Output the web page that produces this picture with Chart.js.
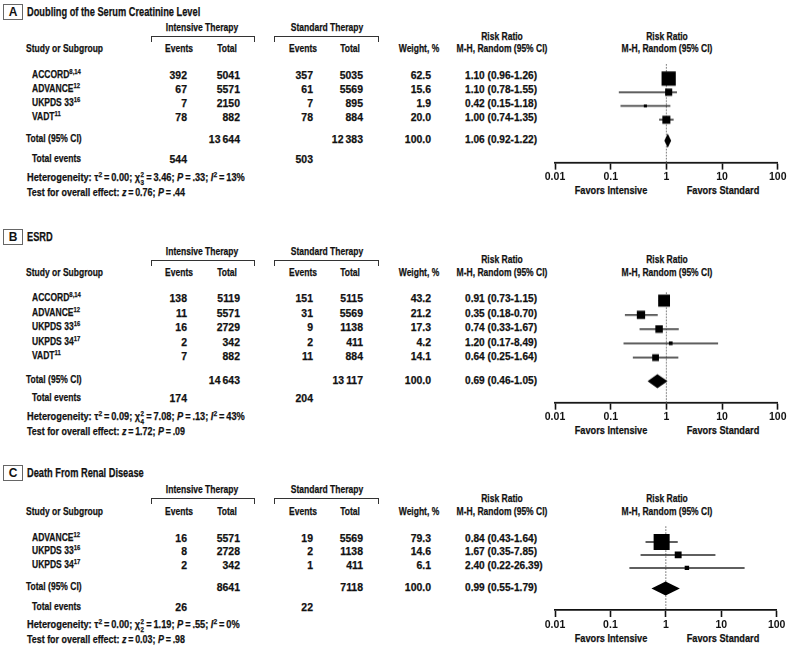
<!DOCTYPE html>
<html>
<head>
<meta charset="utf-8">
<script src="https://cdn.jsdelivr.net/npm/chart.js@4.4.0/dist/chart.umd.min.js"></script>
<style>
  html, body { margin: 0; padding: 0; background: #fff; }
  #page {
    position: relative; width: 788px; height: 647px; overflow: hidden;
    font-family: "Liberation Sans", Arial, sans-serif;
    font-weight: bold; font-size: 11px; color: #111;
  }
  .t { position: absolute; white-space: nowrap; line-height: 1; --k: 0.74; font-size: 11.5px; -webkit-text-stroke: 0.25px #111; }
  .t.n { --k: 0.95; font-size: 11px; }
  .t.q { --k: 0.92; font-size: 11px; }
  .t.h { --k: 0.84; font-size: 11px; }
  .t.f { --k: 0.8; font-size: 11.5px; }
  .l { transform: translateY(-50%) scaleX(var(--k)); transform-origin: left center; }
  .c { transform: translate(-50%, -50%) scaleX(var(--k)); transform-origin: center center; }
  .r { transform: translate(-100%, -50%) scaleX(var(--k)); transform-origin: right center; }
  sup { font-size: 8px; vertical-align: 0; position: relative; top: -4px; }
  .ss { position: relative; display: inline-block; width: 5px; height: 1px; }
  .ss b { position: absolute; left: 0.5px; font-size: 7.5px; line-height: 1; }
  .ss .up { top: -9px; }
  .ss .dn { top: -1.5px; }
  .box {
    position: absolute; width: 18px; height: 14px; border: 1px solid #666;
    text-align: center; line-height: 14px; font-size: 12px; font-weight: bold;
  }
  .br { position: absolute; border: 1.3px solid #333; border-bottom: none; height: 6px; box-sizing: border-box; }
  .cv { position: absolute; }
</style>
</head>
<body>
<div id="page"></div>
<script>
// ---- shared axis ----
const xTicks = [0.01, 0.1, 1, 10, 100];
const xTickLabels = ['0.01', '0.1', '1', '10', '100'];

// ---- A: Doubling of the Serum Creatinine Level ----
const studiesA = ['ACCORD', 'ADVANCE', 'UKPDS 33', 'VADT'];
const refsA = ['8,14', '12', '16', '11'];
const intEventsA = [392, 67, 7, 78];
const intTotalA = [5041, 5571, 2150, 882];
const stdEventsA = [357, 61, 7, 78];
const stdTotalA = [5035, 5569, 895, 884];
const weightA = [62.5, 15.6, 1.9, 20.0];
const rrA = [1.10, 1.10, 0.42, 1.00];
const lowA = [0.96, 0.78, 0.15, 0.74];
const highA = [1.26, 1.55, 1.18, 1.35];
// the ADVANCE whisker is drawn wider than its printed CI in the figure
const drawnLowA = [0.96, 0.14, 0.15, 0.74];
const pooledA = [1.06, 0.92, 1.22];
const sumsA = [13644, 12383];
const eventsA = [544, 503];
const hetA = ['0.00', '3.46', '3', '.33', '13%'];
const effectA = ['0.76', '.44'];

// ---- B: ESRD ----
const studiesB = ['ACCORD', 'ADVANCE', 'UKPDS 33', 'UKPDS 34', 'VADT'];
const refsB = ['8,14', '12', '16', '17', '11'];
const intEventsB = [138, 11, 16, 2, 7];
const intTotalB = [5119, 5571, 2729, 342, 882];
const stdEventsB = [151, 31, 9, 2, 11];
const stdTotalB = [5115, 5569, 1138, 411, 884];
const weightB = [43.2, 21.2, 17.3, 4.2, 14.1];
const rrB = [0.91, 0.35, 0.74, 1.20, 0.64];
const lowB = [0.73, 0.18, 0.33, 0.17, 0.25];
const highB = [1.15, 0.70, 1.67, 8.49, 1.64];
const pooledB = [0.69, 0.46, 1.05];
const sumsB = [14643, 13117];
const eventsB = [174, 204];
const hetB = ['0.09', '7.08', '4', '.13', '43%'];
const effectB = ['1.72', '.09'];

// ---- C: Death From Renal Disease ----
const studiesC = ['ADVANCE', 'UKPDS 33', 'UKPDS 34'];
const refsC = ['12', '16', '17'];
const intEventsC = [16, 8, 2];
const intTotalC = [5571, 2728, 342];
const stdEventsC = [19, 2, 1];
const stdTotalC = [5569, 1138, 411];
const weightC = [79.3, 14.6, 6.1];
const rrC = [0.84, 1.67, 2.40];
const lowC = [0.43, 0.35, 0.22];
const highC = [1.64, 7.85, 26.39];
const pooledC = [0.99, 0.55, 1.79];
const sumsC = [8641, 7118];
const eventsC = [26, 22];
const hetC = ['0.00', '1.19', '2', '.55', '0%'];
const effectC = ['0.03', '.98'];

const panels = [
  { letter: 'A', title: 'Doubling of the Serum Creatinine Level',
    studies: studiesA, refs: refsA, ie: intEventsA, it: intTotalA, se: stdEventsA, st: stdTotalA,
    w: weightA, rr: rrA, lo: lowA, hi: highA, dlo: drawnLowA, dhi: highA,
    pooled: pooledA, sums: sumsA, events: eventsA, het: hetA, eff: effectA,
    y: { title: 12, h1: 28.3, rr1: 36.7, h2: 49.3, plotTop: 60, first: 74.8, gap: 14.2,
         total: 139, tev: 159, het: 177, test: 192, axis: 161.7, fav: 190.5 } },
  { letter: 'B', title: 'ESRD',
    studies: studiesB, refs: refsB, ie: intEventsB, it: intTotalB, se: stdEventsB, st: stdTotalB,
    w: weightB, rr: rrB, lo: lowB, hi: highB, dlo: lowB, dhi: highB,
    pooled: pooledB, sums: sumsB, events: eventsB, het: hetB, eff: effectB,
    y: { title: 236.7, h1: 252, rr1: 260, h2: 273.3, plotTop: 290, first: 298.3, gap: 14.45,
         total: 380, tev: 398, het: 416, test: 430.5, axis: 401.7, fav: 430.7 } },
  { letter: 'C', title: 'Death From Renal Disease',
    studies: studiesC, refs: refsC, ie: intEventsC, it: intTotalC, se: stdEventsC, st: stdTotalC,
    w: weightC, rr: rrC, lo: lowC, hi: highC, dlo: lowC, dhi: highC,
    pooled: pooledC, sums: sumsC, events: eventsC, het: hetC, eff: effectC,
    y: { title: 473.3, h1: 490, rr1: 499.3, h2: 511.7, plotTop: 521, first: 537.6, gap: 13.8,
         total: 587, tev: 606.7, het: 624.3, test: 639.3, axis: 610, fav: 639 } }
];

const page = document.getElementById('page');
Chart.defaults.font.family = '"Liberation Sans", Arial, sans-serif';
Chart.defaults.font.weight = 'bold';
Chart.defaults.font.size = 10;
Chart.defaults.color = '#111';

function put(x, y, html, align, cls) {
  const d = document.createElement('div');
  d.className = 't ' + (align || 'l') + (cls ? ' ' + cls : '');
  d.style.left = x + 'px';
  d.style.top = y + 'px';
  d.innerHTML = html;
  page.appendChild(d);
  return d;
}

const fmt = n => n >= 10000 ? String(n).replace(/(\d+)(\d{3})$/, '$1\u2009$2') : String(n);
const ci = (r, l, h) => `${r.toFixed(2)} (${l.toFixed(2)}-${h.toFixed(2)})`;
const eq = '\u2009=\u2009';

const forestPlugin = {
  id: 'forest',
  beforeDatasetsDraw(chart, args, opts) {
    const { ctx, chartArea: a, scales: { x, y } } = chart;
    ctx.save();
    const x1 = x.getPixelForValue(1);
    ctx.strokeStyle = '#666';
    ctx.lineWidth = 1;
    ctx.setLineDash([1.5, 1.5]);
    ctx.beginPath();
    ctx.moveTo(x1, a.top);
    ctx.lineTo(x1, a.bottom);
    ctx.stroke();
    ctx.setLineDash([]);
    ctx.strokeStyle = '#2a2a2a';
    ctx.lineWidth = 1.5;
    opts.lo.forEach((lo, i) => {
      const py = y.getPixelForValue(i);
      ctx.beginPath();
      ctx.moveTo(x.getPixelForValue(lo), py);
      ctx.lineTo(x.getPixelForValue(opts.hi[i]), py);
      ctx.stroke();
    });
    ctx.restore();
  },
  afterDatasetsDraw(chart, args, opts) {
    const { ctx, scales: { x, y } } = chart;
    const [est, lo, hi] = opts.pooled;
    const py = y.getPixelForValue(opts.totalRow);
    const h = 7;
    ctx.save();
    ctx.fillStyle = '#000';
    ctx.beginPath();
    ctx.moveTo(x.getPixelForValue(lo), py);
    ctx.lineTo(x.getPixelForValue(est), py - h);
    ctx.lineTo(x.getPixelForValue(hi), py);
    ctx.lineTo(x.getPixelForValue(est), py + h);
    ctx.closePath();
    ctx.fill();
    ctx.restore();
  }
};

function drawPanel(p) {
  const L = p.y;

  // title and letter box
  const b = document.createElement('div');
  b.className = 'box';
  b.style.left = '3px';
  b.style.top = (L.title - 8) + 'px';
  b.textContent = p.letter;
  page.appendChild(b);
  const ttl = put(27, L.title, p.title, 'l');
  ttl.style.fontSize = '12.5px';
  ttl.style.setProperty('--k', '0.74');

  // column headers
  put(202, L.h1, 'Intensive Therapy', 'c');
  put(327, L.h1, 'Standard Therapy', 'c');
  [[151, 255], [274, 379]].forEach(([x0, x1]) => {
    const br = document.createElement('div');
    br.className = 'br';
    br.style.left = x0 + 'px';
    br.style.width = (x1 - x0) + 'px';
    br.style.top = (L.h1 + 8) + 'px';
    page.appendChild(br);
  });
  put(26, L.h2, 'Study or Subgroup', 'l');
  put(179, L.h2, 'Events', 'c');
  put(227, L.h2, 'Total', 'c');
  put(303, L.h2, 'Events', 'c');
  put(350, L.h2, 'Total', 'c');
  put(419, L.h2, 'Weight, %', 'c');
  put(502, L.rr1, 'Risk Ratio', 'c');
  put(502, L.h2, 'M-H, Random (95% CI)', 'c');
  put(667, L.rr1, 'Risk Ratio', 'c');
  put(667, L.h2, 'M-H, Random (95% CI)', 'c');

  // study rows
  p.studies.forEach((s, i) => {
    const ry = L.first + i * L.gap;
    put(32, ry, `${s}<sup>${p.refs[i]}</sup>`, 'l');
    put(187, ry, fmt(p.ie[i]), 'r', 'n');
    put(240, ry, fmt(p.it[i]), 'r', 'n');
    put(313, ry, fmt(p.se[i]), 'r', 'n');
    put(363, ry, fmt(p.st[i]), 'r', 'n');
    put(431, ry, p.w[i].toFixed(1), 'r', 'n');
    put(465, ry, ci(p.rr[i], p.lo[i], p.hi[i]), 'l', 'q');
  });

  // totals
  put(26, L.total, 'Total (95% CI)', 'l');
  put(240, L.total, fmt(p.sums[0]), 'r', 'n');
  put(363, L.total, fmt(p.sums[1]), 'r', 'n');
  put(431, L.total, (100).toFixed(1), 'r', 'n');
  put(465, L.total, ci(p.pooled[0], p.pooled[1], p.pooled[2]), 'l', 'q');
  put(32, L.tev, 'Total events', 'l');
  put(187, L.tev, fmt(p.events[0]), 'r', 'n');
  put(313, L.tev, fmt(p.events[1]), 'r', 'n');
  const [tau, chi, df, ph, i2] = p.het;
  put(27, L.het,
    `Heterogeneity: τ<sup>2</sup>${eq}${tau}; χ<span class="ss"><b class="up">2</b><b class="dn">${df}</b></span>${eq}${chi}; <i>P</i>${eq}${ph}; <i>I</i><sup>2</sup>${eq}${i2}`, 'l', 'h');
  put(27, L.test, `Test for overall effect: <i>z</i>${eq}${p.eff[0]}; <i>P</i>${eq}${p.eff[1]}`, 'l', 'h')
    .style.setProperty('--k', '0.81');
  put(611, L.fav, 'Favors Intensive', 'c', 'f');
  put(723, L.fav, 'Favors Standard', 'c', 'f');

  // forest plot
  const padTop = 6, axisH = 24, left = 525, width = 263;
  const wrap = document.createElement('div');
  wrap.className = 'cv';
  wrap.style.left = left + 'px';
  wrap.style.top = (L.plotTop - padTop) + 'px';
  wrap.style.width = width + 'px';
  wrap.style.height = (L.axis - L.plotTop + padTop + axisH) + 'px';
  const canvas = document.createElement('canvas');
  wrap.appendChild(canvas);
  page.appendChild(wrap);

  const yMin = -(L.first - L.plotTop) / L.gap;
  const yMax = (L.axis - L.first) / L.gap;
  const totalRow = (L.total - L.first) / L.gap;

  new Chart(canvas, {
    type: 'scatter',
    data: {
      datasets: [{
        data: p.rr.map((v, i) => ({ x: v, y: i })),
        pointStyle: 'rect',
        pointRadius: p.w.map(w => Math.max(2.2, 1.8 * Math.sqrt(w) / Math.SQRT2)),
        backgroundColor: '#000',
        borderWidth: 0
      }]
    },
    options: {
      responsive: true,
      maintainAspectRatio: false,
      animation: false,
      events: [],
      layout: { padding: { top: padTop, left: 555 - left, right: left + width - 778, bottom: 0 } },
      plugins: {
        legend: { display: false },
        tooltip: { enabled: false },
        forest: { lo: p.dlo, hi: p.dhi, pooled: p.pooled, totalRow: totalRow }
      },
      scales: {
        x: {
          type: 'logarithmic',
          min: 0.01,
          max: 100,
          afterBuildTicks: s => { s.ticks = xTicks.map(v => ({ value: v })); },
          afterFit: s => { s.height = axisH; },
          ticks: {
            callback: (v, i) => xTickLabels[i],
            autoSkip: false,
            maxRotation: 0,
            padding: 1.5,
            color: '#111',
            font: { size: 10.5, weight: 'bold' }
          },
          grid: { drawOnChartArea: false, drawTicks: true, tickLength: 7, tickWidth: 1.6, tickColor: '#111' },
          border: { display: true, color: '#111', width: 1.8 }
        },
        y: { type: 'linear', reverse: true, min: yMin, max: yMax, display: false }
      }
    },
    plugins: [forestPlugin]
  });
}

panels.forEach(drawPanel);
</script>
</body>
</html>
